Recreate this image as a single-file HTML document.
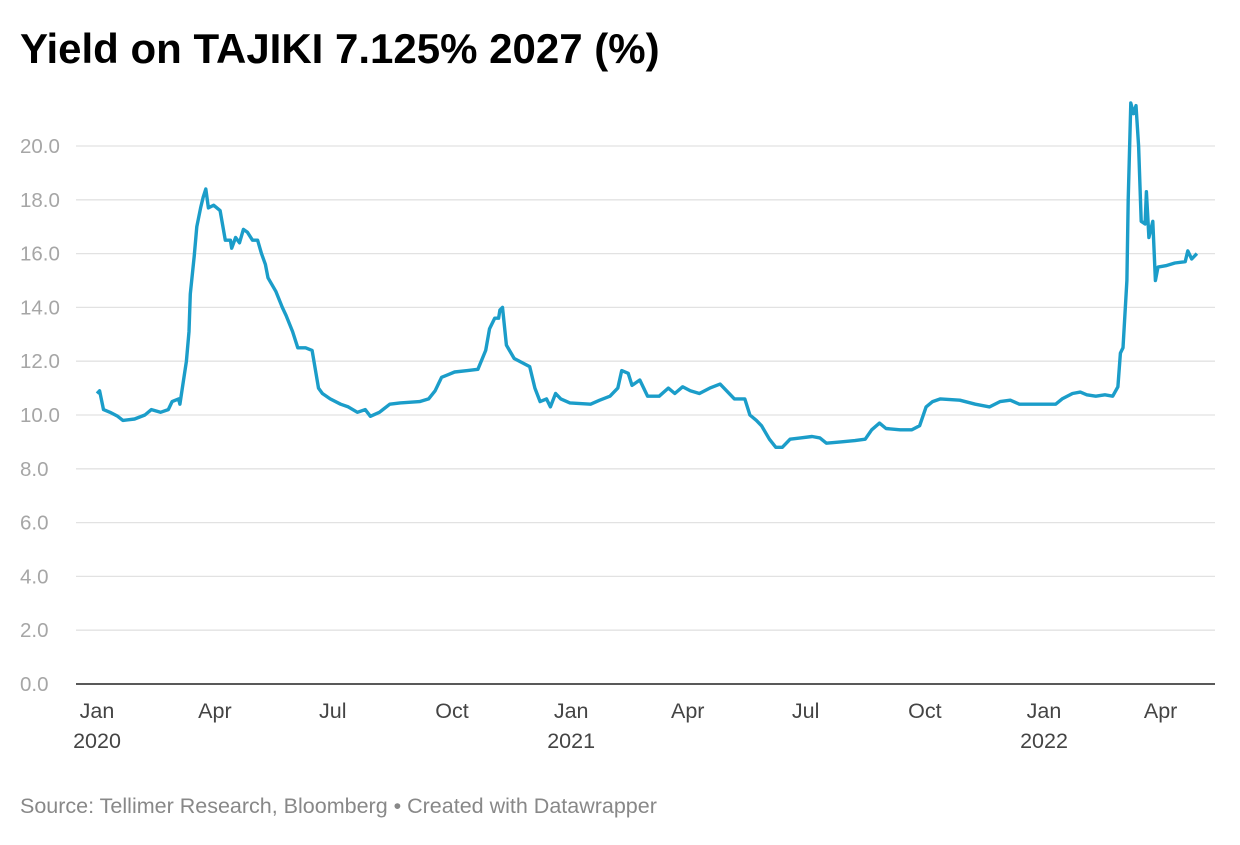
<!DOCTYPE html>
<html><head><meta charset="utf-8"><style>
body{margin:0;background:#fff;font-family:"Liberation Sans",sans-serif}
</style></head><body>
<svg width="1240" height="840" xmlns="http://www.w3.org/2000/svg">
<text x="20" y="63" font-size="42" font-weight="bold" fill="#000">Yield on TAJIKI 7.125% 2027 (%)</text>
<g id="grid"></g>
<g id="xt"></g>
<path id="line" fill="none" stroke="#1b9dc9" stroke-width="3.4" stroke-linejoin="round"/>
<text x="20" y="813" font-size="21.5" fill="#888">Source: Tellimer Research, Bloomberg • Created with Datawrapper</text>
</svg>
<script>
const days=[0,2,5,10,16,20,29,37,42,49,55,58,63,64,69,71,72,75,77,80,82,84,86,90,95,99,103,104,107,110,113,116,120,124,127,130,132,138,143,146,151,155,161,166,171,174,180,188,194,201,207,211,218,226,234,249,256,261,266,271,276,286,294,300,303,307,310,311,313,316,322,334,338,342,347,350,354,358,365,381,388,396,402,405,410,413,419,425,434,441,446,452,458,465,473,481,486,492,500,504,509,513,519,524,529,535,543,552,558,563,574,585,593,598,604,609,620,629,635,640,645,651,666,678,689,697,705,712,728,740,745,753,759,764,771,778,784,788,790,792,795,796,798,800,802,804,806,809,810,812,815,817,819,825,832,840,842,845,849];
const yields=[10.8,10.9,10.2,10.1,9.95,9.8,9.85,10.0,10.2,10.1,10.2,10.5,10.6,10.4,12.0,13.1,14.5,15.9,17.0,17.7,18.1,18.4,17.7,17.8,17.6,16.5,16.5,16.2,16.6,16.4,16.9,16.8,16.5,16.5,16.0,15.6,15.1,14.6,14.0,13.7,13.1,12.5,12.5,12.4,11.0,10.8,10.6,10.4,10.3,10.1,10.2,9.95,10.1,10.4,10.45,10.5,10.6,10.9,11.4,11.5,11.6,11.65,11.7,12.4,13.2,13.6,13.6,13.9,14.0,12.6,12.1,11.8,11.0,10.5,10.6,10.3,10.8,10.6,10.45,10.4,10.55,10.7,11.0,11.65,11.55,11.1,11.3,10.7,10.7,11.0,10.8,11.05,10.9,10.8,11.0,11.15,10.9,10.6,10.6,10.0,9.8,9.6,9.1,8.8,8.8,9.1,9.15,9.2,9.15,8.95,9.0,9.05,9.1,9.45,9.7,9.5,9.45,9.45,9.6,10.3,10.5,10.6,10.55,10.4,10.3,10.5,10.55,10.4,10.4,10.4,10.6,10.8,10.85,10.75,10.7,10.75,10.7,11.05,12.3,12.5,15.0,18.0,21.6,21.2,21.5,20.0,17.2,17.1,18.3,16.6,17.2,15.0,15.5,15.55,15.65,15.7,16.1,15.8,16.0];
const yTicks=[0,2,4,6,8,10,12,14,16,18,20];
const xTickDays=[0,91,182,274,366,456,547,639,731,821];
const xTickMonths=["Jan","Apr","Jul","Oct","Jan","Apr","Jul","Oct","Jan","Apr"];
const xTickYears=["2020","","","","2021","","","","2022",""];
const X=d=>97+d*1.2955, Y=v=>684-v*26.9;
const NS="http://www.w3.org/2000/svg";
const g=document.getElementById('grid');
yTicks.forEach(t=>{
 const l=document.createElementNS(NS,'line');
 l.setAttribute('x1',t===0?76:76);l.setAttribute('x2',1215);l.setAttribute('y1',Y(t));l.setAttribute('y2',Y(t));
 l.setAttribute('stroke',t===0?'#222':'#e2e2e2');l.setAttribute('stroke-width',t===0?1.6:1.3);
 
 
 g.appendChild(l);
 const tx=document.createElementNS(NS,'text');
 tx.setAttribute('x',20);tx.setAttribute('y',Y(t)+7);tx.setAttribute('font-size','20.5');tx.setAttribute('fill','#a6a6a6');
 tx.textContent=t.toFixed(1);
 
 
 g.appendChild(tx);
});
const xt=document.getElementById('xt');
xTickDays.forEach((d,i)=>{
 const a=document.createElementNS(NS,'text');
 a.setAttribute('x',X(d));a.setAttribute('y',718);a.setAttribute('font-size','21.5');a.setAttribute('fill','#444');a.setAttribute('text-anchor','middle');
 a.textContent=xTickMonths[i];
 
 
 xt.appendChild(a);
 if(xTickYears[i]){
  const b=document.createElementNS(NS,'text');
  b.setAttribute('x',X(d));b.setAttribute('y',748);b.setAttribute('font-size','21.5');b.setAttribute('fill','#444');b.setAttribute('text-anchor','middle');
  b.textContent=xTickYears[i];
  
  
  xt.appendChild(b);
 }
});
document.getElementById('line').setAttribute('d',days.map((d,i)=>(i?'L':'M')+X(d).toFixed(1)+','+Y(yields[i]).toFixed(1)).join(''));
</script>
</body></html>
